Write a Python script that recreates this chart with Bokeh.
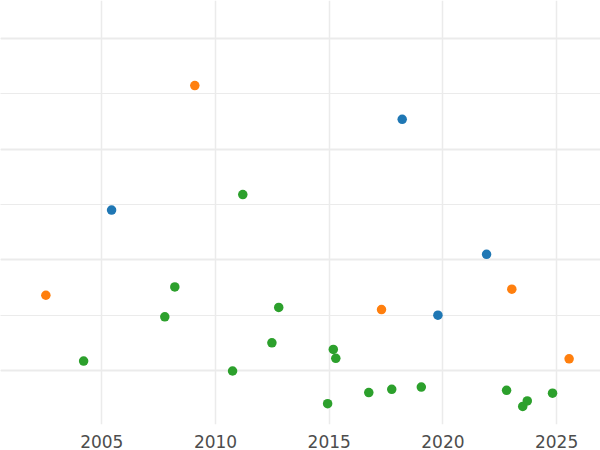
from bokeh.plotting import figure
from bokeh.models import Range1d, FixedTicker, Grid
from bokeh.embed import file_html
from bokeh.resources import INLINE

# Data
blue_year = [2005.43, 2018.21, 2019.78, 2021.92]
blue_value = [3.90, 5.54, 2.00, 3.10]

orange_year = [2002.54, 2009.09, 2017.30, 2023.03, 2025.55]
orange_value = [2.36, 6.15, 2.10, 2.47, 1.21]

green_year = [2004.20, 2007.77, 2008.21, 2010.75, 2011.20, 2012.48, 2012.78,
              2014.93, 2015.18, 2015.29, 2016.74, 2017.75, 2019.05, 2022.80,
              2023.51, 2023.71, 2024.82]
green_value = [1.17, 1.97, 2.51, 0.99, 4.18, 1.50, 2.14,
               0.40, 1.38, 1.22, 0.60, 0.66, 0.70, 0.64,
               0.35, 0.45, 0.59]

x_ticks = [2005, 2010, 2015, 2020, 2025]
y_major = [1, 3, 5, 7]
y_minor = [2, 4, 6]

p = figure(width=600, height=450, output_backend="svg", toolbar_location=None,
           x_range=Range1d(2000.545, 2026.93), y_range=Range1d(0.023, 7.689),
           y_axis_location=None,
           min_border_left=0, min_border_right=0, min_border_top=0,
           min_border_bottom=24)
p.outline_line_color = None
p.background_fill_color = "white"
p.border_fill_color = "white"
p.xgrid.visible = False

xax = p.xaxis[0]
xax.ticker = FixedTicker(ticks=x_ticks)
xax.axis_line_color = None
xax.major_tick_line_color = None
xax.minor_tick_line_color = None
xax.major_label_text_color = "#4d4d4d"
xax.major_label_text_font = "DejaVu Sans"
xax.major_label_text_font_size = "17px"
xax.major_label_standoff = 4

vgrid = Grid(dimension=0, ticker=FixedTicker(ticks=x_ticks),
             grid_line_color="#ebebeb", grid_line_width=1.5)
hgrid = Grid(dimension=1, ticker=FixedTicker(ticks=y_major, minor_ticks=y_minor),
             grid_line_color="#ebebeb", grid_line_width=2,
             minor_grid_line_color="#ebebeb", minor_grid_line_width=1)
p.add_layout(vgrid)
p.add_layout(hgrid)

p.scatter(x=blue_year, y=blue_value, size=9.5, color="#1f77b4", line_color=None)
p.scatter(x=orange_year, y=orange_value, size=9.5, color="#ff7f0e", line_color=None)
p.scatter(x=green_year, y=green_value, size=9.5, color="#2ca02c", line_color=None)

open("out.html", "w").write(file_html(p, INLINE))
